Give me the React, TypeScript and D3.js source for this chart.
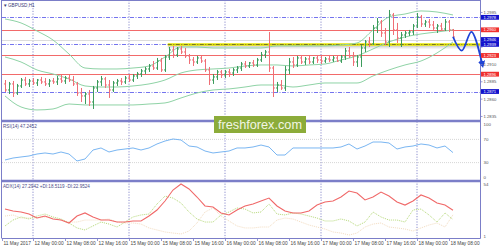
import React from "react";
import * as d3 from "d3";

const W = 500;
const H = 250;

// ---------- DATA ----------
const barOpen = [1.28819,1.28732,1.28819,1.28689,1.28790,1.28876,1.28819,1.28862,1.28833,1.28876,1.28848,1.28819,1.28862,1.28848,1.28891,1.28862,1.28905,1.28876,1.28819,1.28689,1.28646,1.28674,1.28559,1.28761,1.28848,1.28891,1.28804,1.28732,1.28833,1.28862,1.28848,1.28905,1.28876,1.28934,1.28963,1.29006,1.29035,1.29078,1.29049,1.29150,1.29021,1.29208,1.29309,1.29237,1.29324,1.29280,1.29223,1.29165,1.29136,1.29194,1.29150,1.29021,1.28876,1.28920,1.28992,1.28949,1.28992,1.28977,1.29021,1.29049,1.29107,1.29078,1.29122,1.29093,1.29165,1.29237,1.29280,1.29049,1.28761,1.28804,1.28761,1.29021,1.29136,1.29093,1.29194,1.29136,1.29179,1.29136,1.29194,1.29165,1.29150,1.29179,1.29165,1.29194,1.29150,1.29208,1.29295,1.29223,1.29136,1.29208,1.29338,1.29425,1.29396,1.29626,1.29713,1.29554,1.29425,1.29814,1.29598,1.29482,1.29525,1.29554,1.29569,1.29655,1.29785,1.29684,1.29713,1.29670,1.29626,1.29655,1.29612,1.29713,1.29598];
const barHigh = [1.28876,1.28848,1.28862,1.28819,1.28905,1.28920,1.28891,1.28905,1.28891,1.28920,1.28905,1.28891,1.28905,1.28934,1.28949,1.28934,1.28949,1.28934,1.28848,1.28761,1.28703,1.28732,1.28790,1.28876,1.28934,1.28920,1.28876,1.28862,1.28891,1.28905,1.28934,1.28949,1.28963,1.28992,1.29035,1.29064,1.29107,1.29150,1.29194,1.29194,1.29237,1.29352,1.29367,1.29352,1.29367,1.29338,1.29251,1.29208,1.29223,1.29223,1.29179,1.29064,1.28963,1.29021,1.29021,1.29021,1.29035,1.29049,1.29078,1.29136,1.29150,1.29136,1.29165,1.29194,1.29280,1.29309,1.29569,1.29078,1.28848,1.28876,1.29078,1.29194,1.29208,1.29223,1.29237,1.29208,1.29223,1.29208,1.29237,1.29223,1.29208,1.29237,1.29223,1.29223,1.29237,1.29338,1.29352,1.29280,1.29237,1.29381,1.29453,1.29497,1.29670,1.29771,1.29742,1.29626,1.29886,1.29843,1.29699,1.29569,1.29583,1.29598,1.29684,1.29843,1.29814,1.29742,1.29756,1.29727,1.29684,1.29699,1.29756,1.29742,1.29612];
const barLow = [1.28703,1.28674,1.28631,1.28660,1.28761,1.28790,1.28775,1.28804,1.28790,1.28819,1.28790,1.28775,1.28819,1.28804,1.28833,1.28819,1.28848,1.28790,1.28646,1.28559,1.28530,1.28501,1.28458,1.28703,1.28790,1.28761,1.28617,1.28703,1.28790,1.28804,1.28819,1.28848,1.28848,1.28891,1.28920,1.28963,1.28992,1.29021,1.29021,1.28992,1.28992,1.29165,1.29194,1.29208,1.29251,1.29194,1.29107,1.29078,1.29107,1.29122,1.28992,1.28804,1.28819,1.28876,1.28905,1.28905,1.28920,1.28934,1.28977,1.29006,1.29049,1.29049,1.29064,1.29064,1.29136,1.29194,1.28992,1.28631,1.28703,1.28732,1.28718,1.28963,1.29049,1.29064,1.29107,1.29093,1.29107,1.29107,1.29122,1.29107,1.29122,1.29136,1.29136,1.29136,1.29122,1.29165,1.29194,1.29078,1.29064,1.29064,1.29280,1.29352,1.29381,1.29554,1.29497,1.29381,1.29352,1.29525,1.29410,1.29352,1.29482,1.29511,1.29525,1.29626,1.29641,1.29641,1.29626,1.29598,1.29554,1.29583,1.29583,1.29569,1.29468];
const barClose = [1.28732,1.28819,1.28689,1.28790,1.28876,1.28819,1.28862,1.28833,1.28876,1.28848,1.28819,1.28862,1.28848,1.28891,1.28862,1.28905,1.28876,1.28819,1.28689,1.28646,1.28674,1.28559,1.28761,1.28848,1.28891,1.28804,1.28732,1.28833,1.28862,1.28848,1.28905,1.28876,1.28934,1.28963,1.29006,1.29035,1.29078,1.29049,1.29150,1.29021,1.29208,1.29309,1.29237,1.29324,1.29280,1.29223,1.29165,1.29136,1.29194,1.29150,1.29021,1.28876,1.28920,1.28992,1.28949,1.28992,1.28977,1.29021,1.29049,1.29107,1.29078,1.29122,1.29093,1.29165,1.29237,1.29280,1.29049,1.28761,1.28804,1.28761,1.29021,1.29136,1.29093,1.29194,1.29136,1.29179,1.29136,1.29194,1.29165,1.29150,1.29179,1.29165,1.29194,1.29150,1.29208,1.29295,1.29223,1.29136,1.29208,1.29338,1.29425,1.29396,1.29626,1.29713,1.29554,1.29425,1.29814,1.29598,1.29482,1.29525,1.29554,1.29569,1.29655,1.29785,1.29684,1.29713,1.29670,1.29626,1.29655,1.29612,1.29713,1.29598,1.29497];

// Bollinger bands, one value every 4 bars
const bbUpper = [1.29756,1.29699,1.29583,1.29453,1.29251,1.29049,1.29035,1.29035,1.29049,1.29078,1.29208,1.29352,1.29352,1.29338,1.29338,1.29338,1.29338,1.29367,1.29367,1.29367,1.29367,1.29381,1.29410,1.29598,1.29785,1.29828,1.29872,1.29857,1.29814];
const bbMiddle = [1.29208,1.29136,1.29021,1.28963,1.28891,1.28790,1.28775,1.28775,1.28790,1.28819,1.28876,1.28977,1.29021,1.29035,1.29049,1.29078,1.29093,1.29093,1.29078,1.29093,1.29107,1.29165,1.29223,1.29324,1.29425,1.29497,1.29540,1.29569,1.29598];
const bbLower = [1.28646,1.28487,1.28444,1.28458,1.28530,1.28516,1.28516,1.28516,1.28516,1.28530,1.28545,1.28617,1.28689,1.28732,1.28747,1.28775,1.28804,1.28804,1.28775,1.28804,1.28833,1.28833,1.28833,1.28934,1.29021,1.29093,1.29150,1.29266,1.29425];

// RSI(14), one value every 2 bars
const rsiValues = [34.5,37.9,39.7,41.4,44.8,46.6,44.8,48.3,44.8,32.8,36.2,51.7,55.2,48.3,51.7,53.4,55.2,51.7,55.2,62.1,67.2,70.7,69.0,58.6,56.9,50.0,46.6,48.3,50.0,55.2,55.2,56.9,60.3,56.9,43.1,43.1,55.2,55.2,55.2,55.2,55.2,55.2,56.9,62.1,53.4,58.6,65.5,65.5,63.8,53.4,56.9,58.6,62.1,60.3,55.2,58.6,47.2452];

// ADX(14), +DI, -DI, one value every 2 bars
const adxValues = [28.4,26.5,25.6,23.7,19.9,21.8,19.0,18.0,15.2,21.8,24.7,20.9,18.0,18.0,16.1,16.1,17.1,17.1,21.8,27.5,36.0,46.4,52.1,47.4,39.8,31.3,30.3,24.7,22.8,27.5,31.3,33.2,36.0,38.8,31.3,26.5,24.7,24.7,26.5,32.2,35.1,36.0,39.8,45.5,43.6,37.0,39.8,44.5,40.7,35.1,32.2,36.0,41.7,38.8,34.1,32.2,27.2942];
const plusDI = [12.4,18.0,20.9,19.0,21.8,23.7,20.9,19.0,15.2,10.5,8.6,12.4,16.1,14.2,11.4,16.1,20.9,22.8,23.7,33.2,40.7,38.8,34.1,25.6,19.0,16.1,16.1,22.8,25.6,29.4,28.4,24.7,25.6,33.2,23.7,22.8,24.7,23.7,21.8,19.9,17.1,17.1,19.0,17.1,12.4,16.1,25.6,20.9,18.0,18.0,16.1,27.5,28.4,22.8,16.1,24.7,18.5119];
const minusDI = [21.8,22.8,19.9,19.9,19.9,20.9,19.9,18.0,16.1,16.1,18.0,18.0,18.0,19.0,16.1,15.2,15.2,14.2,10.5,8.6,6.7,5.7,4.8,7.6,15.2,25.6,29.4,21.8,17.1,12.4,10.5,10.5,11.4,11.4,18.0,19.9,19.0,16.1,13.3,11.4,9.5,6.7,5.7,3.8,5.7,11.4,14.2,15.2,11.4,10.5,9.5,7.6,10.5,13.3,15.2,11.4,22.9524];

// Time axis
const timeLabels = ["11 May 2017","12 May 00:00","12 May 08:00","12 May 16:00","15 May 00:00","15 May 08:00","15 May 16:00","16 May 00:00","16 May 08:00","16 May 16:00","17 May 00:00","17 May 08:00","17 May 16:00","18 May 00:00","18 May 08:00"];
const timeIdx = [-0.75,7,15,23,31,39,47,55,63,71,79,87,95,103,111];
const daySepIdx = [7,31,55,79,103];

// Price axis
const priceTicks = [1.2985,1.2960,1.2935,1.2910,1.2885,1.2860,1.2835];
const levelPrices = [1.2978,1.2960,1.2946,1.2939,1.2923,1.2896,1.2871];
const levelKinds = ["blue","red","gray","yellow","red","red","blue"];
const labelBoxColors = ["blue","red","blue","blue","red","red","blue"];

// RSI / ADX axes
const rsiTicks = [100,70,30,0];
const rsiLevels = [70,30];
const adxTicks = [54,1];

// Forecast arrow
const forecastIdx = [112,114.2,116.6,119.4];
const forecastPrice = [1.2950,1.2930,1.2957,1.2908];

// ---------- STYLE ----------
const FRAME = "#7b7ec8";
const UP = "#3c9c5c";
const DOWN = "#ef6f76";
const BB = "#8fd3a6";
const RED_LINE = "#f26a6a";
const BLUE_LINE = "#6464ec";
const FONT = "'Liberation Sans', Arial, sans-serif";

export default function App() {
  const x = d3.scaleLinear().domain([0, 112]).range([5, 453]);
  const y = d3.scaleLinear().domain([1.28299, 1.3003]).range([120, 0]);
  const yR = d3.scaleLinear().domain([0, 100]).range([180, 122]);
  const yA = d3.scaleLinear().domain([1, 54]).range([238, 182]);

  const bandLine = (arr: number[]) =>
    d3.line<number>().x((_, i) => x(i * 4)).y((d) => y(d)).curve(d3.curveMonotoneX)(arr) || "";
  const rsiPath = d3.line<number>().x((_, i) => x(i * 2)).y((d) => yR(d))(rsiValues) || "";
  const adxLine = (arr: number[]) =>
    d3.line<number>().x((_, i) => x(i * 2)).y((d) => yA(d))(arr) || "";

  const forecastPts: [number, number][] = forecastIdx.map((d, i) => [x(d), y(forecastPrice[i])]);
  const forecastPath = d3.line().curve(d3.curveCatmullRom.alpha(0.5))(forecastPts) || "";

  const right = 480.5;
  const boxH = 4.8;
  // tick labels hidden behind coloured label boxes are not drawn
  const visibleTicks = priceTicks.filter((p) => levelPrices.every((l) => Math.abs(y(l) - y(p)) > 4.5));

  return (
    <div style={{ position: "fixed", left: 0, top: 0, width: W, height: H, background: "#fff" }}>
      <svg width={W} height={H} style={{ display: "block" }} fontFamily={FONT}>
        <defs>
          <clipPath id="main"><rect x={2} y={0} width={478} height={120} /></clipPath>
          <clipPath id="rsi"><rect x={2} y={122} width={478} height={58} /></clipPath>
          <clipPath id="adx"><rect x={2} y={182} width={478} height={56} /></clipPath>
          <linearGradient id="shade" x1="0" y1="0" x2="0" y2="1">
            <stop offset="0" stopColor="#b8b8b8" stopOpacity="0.9" />
            <stop offset="1" stopColor="#e8e8e8" stopOpacity="0.3" />
          </linearGradient>
          <marker id="arrow" viewBox="0 0 10 10" refX="7" refY="5" markerWidth="4" markerHeight="4" orient="auto">
            <path d="M0,0 L10,5 L0,10 z" fill="#1f44d6" />
          </marker>
        </defs>
        <rect x={0} y={0} width={W} height={H} fill="#fff" />

        {/* day separators */}
        {daySepIdx.map((d) => (
          <line key={"ds" + d} x1={x(d)} x2={x(d)} y1={0} y2={238} stroke="#6d6fc0" strokeWidth={0.8} strokeDasharray="1.2,1.5" />
        ))}

        {/* main panel */}
        <g clipPath="url(#main)">
          {levelPrices.map((p, i) => {
            const k = levelKinds[i];
            const yy = Math.round(y(p)) + 0.5;
            if (k === "red") return <line key={"lv" + i} x1={2} x2={right} y1={yy} y2={yy} stroke={RED_LINE} strokeWidth={1} />;
            if (k === "blue") return <line key={"lv" + i} x1={2} x2={right} y1={yy} y2={yy} stroke={BLUE_LINE} strokeWidth={0.9} strokeDasharray="4,1.5,1,1.5" />;
            if (k === "gray") return <line key={"lv" + i} x1={2} x2={right} y1={yy} y2={yy} stroke="#dcdcdc" strokeWidth={1} />;
            return (
              <g key={"lv" + i}>
                <line x1={2} x2={x(40.7)} y1={yy} y2={yy} stroke={BLUE_LINE} strokeWidth={0.9} strokeDasharray="4,1.5,1,1.5" />
                <rect x={x(40.7)} y={yy + 1} width={right - x(40.7)} height={3.5} fill="url(#shade)" />
                <line x1={x(40.7)} x2={right} y1={yy} y2={yy} stroke="#e4e400" strokeWidth={2.4} />
                <line x1={x(40.7)} x2={right} y1={yy} y2={yy} stroke="#4a4a2a" strokeWidth={0.7} strokeDasharray="4,1.5,1,1.5" />
              </g>
            );
          })}
          <path d={bandLine(bbUpper)} fill="none" stroke={BB} strokeWidth={1} />
          <path d={bandLine(bbMiddle)} fill="none" stroke={BB} strokeWidth={1} />
          <path d={bandLine(bbLower)} fill="none" stroke={BB} strokeWidth={1} />
          {barClose.map((c, i) => {
            const o = barOpen[i];
            const col = c >= o ? UP : DOWN;
            const xx = Math.round(x(i)) + 0.5;
            return (
              <g key={"b" + i} stroke={col} strokeWidth={1}>
                <line x1={xx} x2={xx} y1={y(barHigh[i])} y2={y(barLow[i])} />
                <line x1={xx - 1.5} x2={xx} y1={y(o)} y2={y(o)} />
                <line x1={xx} x2={xx + 1.5} y1={y(c)} y2={y(c)} />
              </g>
            );
          })}
        </g>
        <text x={3} y={7} fontSize={4.6} fill="#3a3a78">▼</text>
        <text x={8} y={7} fontSize={4.6} fill="#3a3a78">GBPUSD,H1</text>

        {/* RSI panel */}
        <g clipPath="url(#rsi)">
          {rsiLevels.map((l) => (
            <line key={"rl" + l} x1={2} x2={right} y1={yR(l)} y2={yR(l)} stroke="#c4c4c4" strokeWidth={0.7} strokeDasharray="1,1" />
          ))}
          <path d={rsiPath} fill="none" stroke="#7ab6f2" strokeWidth={1} />
        </g>
        <text x={3} y={127.5} fontSize={4.6} fill="#4a4a88">RSI(14) 47.2452</text>

        {/* ADX panel */}
        <g clipPath="url(#adx)">
          <path d={adxLine(minusDI)} fill="none" stroke="#f3dcc0" strokeWidth={1} strokeDasharray="1,1" />
          <path d={adxLine(plusDI)} fill="none" stroke="#b6d97a" strokeWidth={1} strokeDasharray="1,1" />
          <path d={adxLine(adxValues)} fill="none" stroke="#f06868" strokeWidth={1.1} />
        </g>
        <text x={3} y={187.5} fontSize={4.6} fill="#4a4a88">ADX(14) 27.2942 +DI:18.5119 -DI:22.9524</text>

        {/* frames */}
        <line x1={1.5} x2={1.5} y1={0} y2={238} stroke={FRAME} strokeWidth={1} />
        <line x1={1.5} x2={right} y1={0.5} y2={0.5} stroke={FRAME} strokeWidth={1} />
        <line x1={right} x2={right} y1={0} y2={238.5} stroke={FRAME} strokeWidth={1} />
        <line x1={1.5} x2={right} y1={121} y2={121} stroke={FRAME} strokeWidth={2.4} />
        <line x1={1.5} x2={right} y1={181} y2={181} stroke={FRAME} strokeWidth={2.4} />
        <line x1={1.5} x2={right} y1={238.5} y2={238.5} stroke={FRAME} strokeWidth={1} />

        {/* forecast arrow */}
        <path d={forecastPath} fill="none" stroke="#1f44d6" strokeWidth={1.8} markerEnd="url(#arrow)" />

        {/* price axis */}
        {priceTicks.map((p) => (
          <line key={"ptl" + p} x1={right} x2={right + 2} y1={y(p)} y2={y(p)} stroke={FRAME} strokeWidth={0.8} />
        ))}
        {visibleTicks.map((p) => (
          <text key={"pt" + p} x={483.5} y={y(p)} dy="0.35em" fontSize={4.2} fill="#555">{p.toFixed(4)}</text>
        ))}
        {levelPrices.map((p, i) => {
          const yy = y(p);
          const fill = labelBoxColors[i] === "red" ? "#f03030" : "#1212cc";
          return (
            <g key={"lb" + i}>
              <rect x={481} y={yy - boxH / 2} width={18} height={boxH} fill={fill} />
              <text x={483.5} y={yy} dy="0.35em" fontSize={4.1} fill="#fff">{p.toFixed(4)}</text>
            </g>
          );
        })}

        {/* RSI axis */}
        {rsiTicks.map((t) => {
          const yy = Math.min(Math.max(yR(t), 124.5), 177.5);
          return <text key={"rt" + t} x={483.5} y={yy} dy="0.35em" fontSize={4.4} fill="#555">{t}</text>;
        })}
        {adxTicks.map((t) => {
          const yy = Math.min(Math.max(yA(t), 184.5), 236);
          return <text key={"at" + t} x={483.5} y={yy} dy="0.35em" fontSize={4.4} fill="#555">{t}</text>;
        })}

        {/* time axis */}
        {timeLabels.map((t, i) => {
          const xx = Math.round(x(timeIdx[i])) + 0.5;
          return (
            <g key={"tl" + i}>
              <line x1={xx} x2={xx} y1={238.5} y2={241} stroke={FRAME} strokeWidth={0.8} />
              <text x={xx + 1} y={245.3} fontSize={4.8} fill="#444">{t}</text>
            </g>
          );
        })}

        {/* watermark */}
        <rect x={214} y={116} width={92} height={17} fill="#8cac3a" />
        <text x={260} y={129} textAnchor="middle" fontSize={13} fill="#f2f6e4" textLength={84} lengthAdjust="spacingAndGlyphs">freshforex.com</text>
      </svg>
    </div>
  );
}
